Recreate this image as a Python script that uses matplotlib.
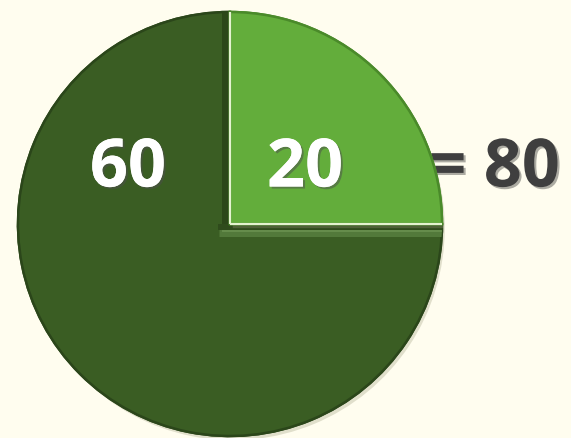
import numpy as np
import matplotlib.pyplot as plt
import matplotlib.patheffects as pe

# slice values (light quarter first, then the dark remainder)
labels = ['20', '60']
values = [20, 60]
total_label = '= 80'
colors = ['#63ad3b', '#3a5d23']
edge_colors = ['#4a8a2a', '#2b461a']

fig = plt.figure(figsize=(5.71, 4.38), dpi=100)
fig.patch.set_facecolor('#fffdef')
ax = fig.add_axes([0, 0, 1, 1])
ax.set_facecolor('#fffdef')

# total sits behind the pie, the "=" is partly covered by the light slice
ax.text(494, 269, total_label, fontsize=48, fontweight='bold', family='Open Sans',
        color='#3f3f3f', ha='center', va='center', zorder=0,
        path_effects=[pe.withSimplePatchShadow(offset=(1.5, -1.5), alpha=0.35)])

wedges, _ = ax.pie(values, colors=colors, startangle=0, counterclock=True,
                   radius=212, center=(230, 214),
                   wedgeprops=dict(linewidth=1.8), frame=True)
light, dark = wedges
for w, ec, z in zip(wedges, edge_colors, [4, 2]):
    w.set_edgecolor(ec)
    w.set_zorder(z)
    w.set_path_effects([pe.withSimplePatchShadow(offset=(2, -3), shadow_rgbFace='#9a9a7a', alpha=0.3),
                        pe.Normal()])

cx, cy = dark.center
r = dark.r
px = 0.72  # one pixel in points at dpi 100

# bevel on the dark slice: shadow left of / under the light slice, highlight band below
for seg, col, lw in [(([cx - 4, cx - 4], [cy - 12, cy + r]), '#2c4719', 8),
                     (([cx - 12, cx + r], [cy - 3, cy - 3]), '#2f4b1c', 6),
                     (([cx - 11, cx + r], [cy - 9, cy - 9]), '#52793a', 7),
                     (([cx - 8, cx + r], [cy - 7, cy - 7]), '#658c4b', 2)]:
    ln, = ax.plot(*seg, color=col, lw=lw * px, zorder=3, solid_capstyle='butt')
    ln.set_clip_path(dark)

# thin pale rim on the straight edges of the light slice
lx, ly = light.center
for ang in (light.theta1, light.theta2):
    a = np.deg2rad(ang)
    ax.plot([lx, lx + light.r * np.cos(a)], [ly, ly + light.r * np.sin(a)],
            color='#e4f3cf', lw=2.2 * px, zorder=4.5, solid_capstyle='butt')

# slice labels
label_pos = [(305, 269), (128, 269)]
for lab, (x, y) in zip(labels, label_pos):
    ax.text(x, y, lab, fontsize=48, fontweight='bold', family='Open Sans',
            color='white', ha='center', va='center', zorder=5,
            path_effects=[pe.withSimplePatchShadow(offset=(1.5, -1.5), alpha=0.5), pe.Normal()])

ax.set_xlim(0, 571)
ax.set_ylim(0, 438)
ax.set_aspect('auto')
ax.axis('off')

fig.savefig('out.png', dpi=100, facecolor=fig.get_facecolor())
